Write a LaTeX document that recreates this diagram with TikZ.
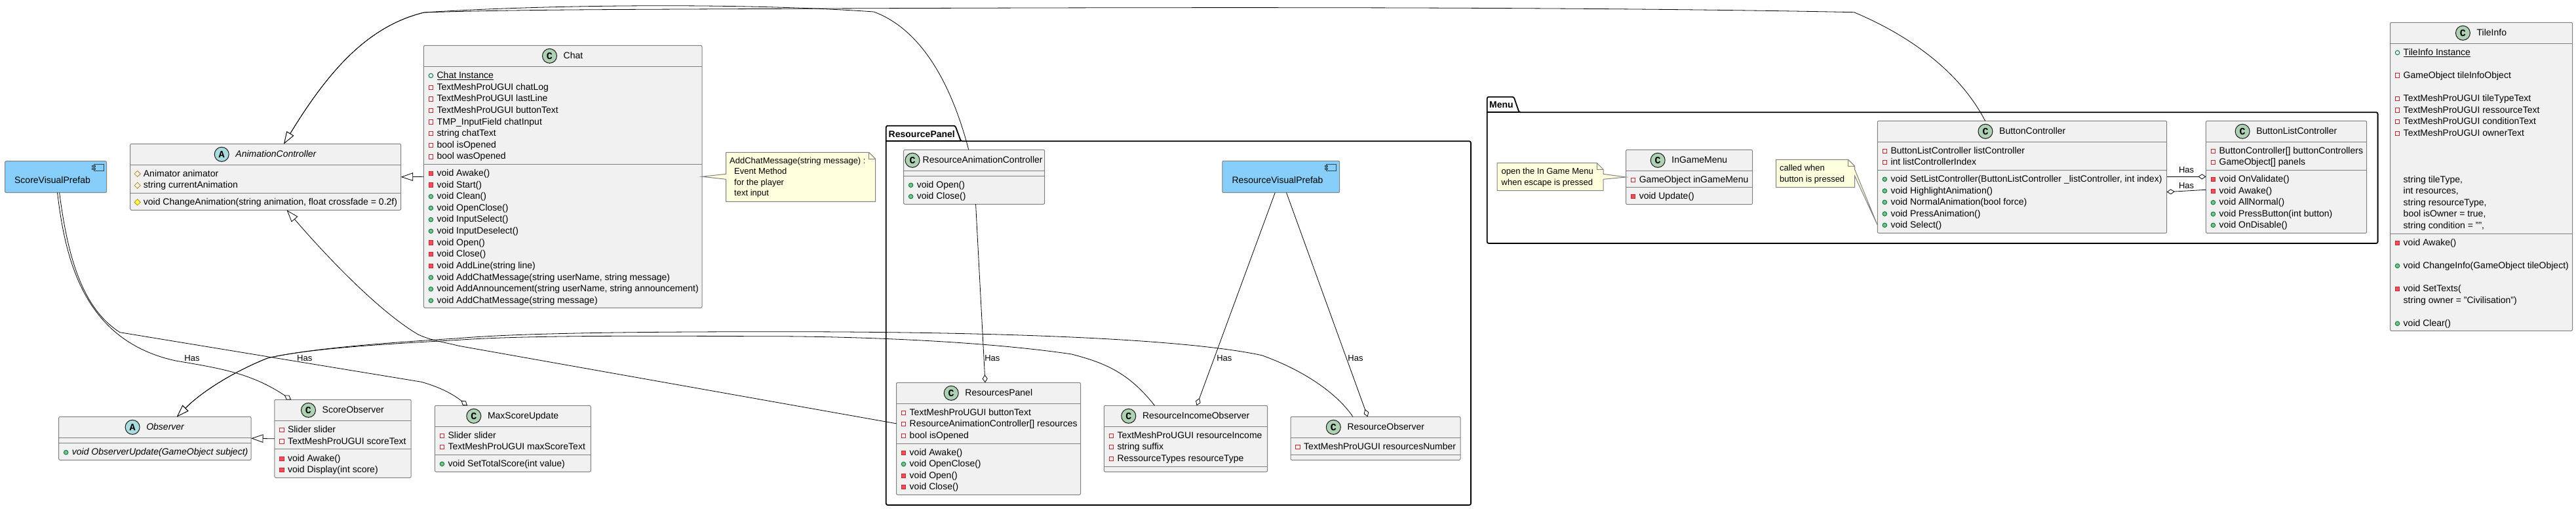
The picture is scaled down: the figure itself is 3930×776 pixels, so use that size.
\documentclass[tikz,border=0pt]{standalone}
\usepackage{fontspec}
\setmainfont{Liberation Sans}
\newfontfamily\iconfont{Liberation Mono}
\usetikzlibrary{positioning,fit,arrows.meta,shapes.geometric}

\newcommand{\rowfont}{\fontsize{14}{17}\selectfont}
\newcommand{\notefont}{\fontsize{13}{16.3}\selectfont}

\definecolor{classfill}{HTML}{F1F1F1}
\definecolor{classdraw}{HTML}{808080}
\definecolor{notefill}{HTML}{FEFFDD}
\definecolor{prefabfill}{HTML}{87CEFA}
\definecolor{iconcfill}{HTML}{ADD1B2}
\definecolor{iconafill}{HTML}{A9DCDF}
\definecolor{privdraw}{HTML}{C82930}
\definecolor{privfill}{HTML}{F24D5C}
\definecolor{pubdraw}{HTML}{038048}
\definecolor{pubfill}{HTML}{84BE84}
\definecolor{protdraw}{HTML}{B38D22}
\definecolor{protfill}{HTML}{FFFF44}

\tikzset{
    classbox/.style={draw=classdraw, fill=classfill, line width=1pt, rounded corners=2pt, inner sep=0pt, outer sep=0pt},
    classline/.style={draw=classdraw, line width=1pt},
    prefab/.style={draw=classdraw, fill=prefabfill, line width=1pt, rounded corners=2pt, inner sep=0pt, outer sep=0pt},
    prefabicon/.style={draw=black!65!prefabfill, line width=0.8pt},
    noteline/.style={draw=classdraw, fill=notefill, line width=1pt},
    pkgline/.style={draw=black, line width=1.8pt, rounded corners=2.5pt},
    rowtext/.style={anchor=west, inner sep=0pt, font=\rowfont, text height=11pt, text depth=3pt},
    classtitle/.style={inner sep=0pt, font=\rowfont, text height=11pt, text depth=3pt},
    notetext/.style={anchor=west, inner sep=0pt, font=\notefont, align=left},
    haslabel/.style={inner sep=0pt, font=\notefont},
    iconC/.style={circle, draw=black!90, fill=iconcfill, line width=1pt, minimum size=22pt, inner sep=0pt, font=\iconfont\bfseries\fontsize{15}{15}\selectfont},
    iconA/.style={iconC, fill=iconafill},
    icprivf/.style={rectangle, draw=privdraw, fill=classfill, line width=1pt, minimum size=6.5pt, inner sep=0pt},
    icprivm/.style={icprivf, fill=privfill},
    icpubf/.style={circle, draw=pubdraw, fill=classfill, line width=1pt, minimum size=6.5pt, inner sep=0pt},
    icpubm/.style={icpubf, fill=pubfill},
    icprotf/.style={diamond, draw=protdraw, fill=classfill, line width=0.8pt, minimum size=9.5pt, inner sep=0pt},
    icprotm/.style={icprotf, fill=protfill},
    icnone/.style={inner sep=0pt},
    inherit/.style={draw=black, line width=0.8pt, -{Triangle[fill=white, length=18.5pt, width=12.5pt]}},
    hasline/.style={draw=black, line width=0.8pt, -{Diamond[fill=white, length=12pt, width=8pt]}}
}

% box with header, separator, round icon and title: [gap]{name}{left}{top}{right}{bottom}{sep}{letter}{title}
\newcommand{\umlclass}[9][9.5]{
    \node[classbox, fit={(#3,#4) (#5,#6)}] (#2) {};
    \draw[classline] (#3,{#4+32}) -- (#5,{#4+32});
    \draw[classline] (#3,#7) -- (#5,#7);
    \node[classtitle] (#2-title) at ({(#3+#5)/2+(22+#1)/2},{#4+16}) {#9};
    \node[icon#8, left=#1pt of #2-title] (#2-icon) {#8};
}
% rows of a class: y/icon style/text
\newcommand{\classrows}[2]{
    \foreach \ry/\rk/\rt [count=\ri] in {#2} {
        \node[\rk] (#1-i\ri) at ([xshift=11pt]#1.west |- 0,\ry) {};
        \node[rowtext] (#1-r\ri) at ([xshift=20pt]#1.west |- 0,\ry) {\rt};
    }
}

\begin{document}
\begin{tikzpicture}[x=1pt, y=-1pt]
        \useasboundingbox (0,0) rectangle (3930,776);

        % Packages
        \draw[pkgline] (1351.8,215.3) -- (1351.8,191.7) -- (1457.3,191.7) -- (1466,215.3) -- (2244,215.3) -- (2244,770) -- (1351.8,770) -- cycle;
        \draw[pkgline] (1351.8,215.3) -- (1466,215.3);
        \node[inner sep=0pt, anchor=west, font=\rowfont\bfseries] (resPanelPkg) at (1355.5,204) {ResourcePanel};

        \draw[pkgline] (2268.7,171.3) -- (2268.7,147.7) -- (2309.5,147.7) -- (2317.6,171.3) -- (3627.6,171.3) -- (3627.6,371) -- (2268.7,371) -- cycle;
        \draw[pkgline] (2268.7,171.3) -- (2317.6,171.3);
        \node[inner sep=0pt, anchor=west, font=\rowfont\bfseries] (menuPkg) at (2272,160) {Menu};

        % Classes on the left
        \umlclass{animCtrl}{198.7}{219.3}{611.6}{320.3}{294.3}{A}{\itshape AnimationController}
        \classrows{animCtrl}{265/icprotf/{Animator animator}, 282.7/icprotf/{string currentAnimation},
            308.3/icprotm/{void ChangeAnimation(string animation, float crossfade = 0.2f)}}

        \umlclass{chat}{646.4}{69.3}{1071}{469.3}{250.3}{C}{Chat}
        \classrows{chat}{115.3/icpubf/{\underline{Chat Instance}}, 133.3/icprivf/{TextMeshProUGUI chatLog},
            150.9/icprivf/{TextMeshProUGUI lastLine}, 168.5/icprivf/{TextMeshProUGUI buttonText},
            186.1/icprivf/{TMP\_InputField chatInput}, 203.7/icprivf/{string chatText},
            221.3/icprivf/{bool isOpened}, 238.9/icprivf/{bool wasOpened},
            264.3/icprivm/{void Awake()}, 282/icprivm/{void Start()}, 299.6/icpubm/{void Clean()},
            317.2/icpubm/{void OpenClose()}, 334.8/icpubm/{void InputSelect()}, 352.4/icpubm/{void InputDeselect()},
            370/icprivm/{void Open()}, 387.6/icprivm/{void Close()}, 405.4/icprivm/{void AddLine(string line)},
            423/icpubm/{void AddChatMessage(string userName, string message)},
            440.7/icpubm/{void AddAnnouncement(string userName, string announcement)},
            458.3/icpubm/{void AddChatMessage(string message)}}

        \umlclass{observer}{89.7}{635.3}{383}{701.3}{675.3}{A}{\itshape Observer}
        \classrows{observer}{689.7/icpubm/{\itshape void ObserverUpdate(GameObject subject)}}

        \umlclass{scoreObserver}{418.8}{609.3}{627.2}{728.3}{684.3}{C}{ScoreObserver}
        \classrows{scoreObserver}{655.3/icprivf/{Slider slider}, 673/icprivf/{TextMeshProUGUI scoreText},
            699.3/icprivm/{void Awake()}, 716.3/icprivm/{void Display(int score)}}

        \umlclass{maxScore}{663.4}{618.3}{901.3}{719.3}{693.3}{C}{MaxScoreUpdate}
        \classrows{maxScore}{664.3/icprivf/{Slider slider}, 681.7/icprivf/{TextMeshProUGUI maxScoreText},
            707.3/icpubm/{void SetTotalScore(int value)}}

        % ResourcePanel
        \umlclass[4]{resAnim}{1378.6}{228.3}{1593.7}{311.3}{268.3}{C}{ResourceAnimationController}
        \classrows{resAnim}{282.3/icpubm/{void Open()}, 299.6/icpubm/{void Close()}}

        \umlclass{resPanel}{1367.5}{583.3}{1648.5}{754.3}{676.7}{C}{ResourcesPanel}
        \classrows{resPanel}{629.3/icprivf/{TextMeshProUGUI buttonText}, 646.6/icprivf/{ResourceAnimationController[] resources},
            664.3/icprivf/{bool isOpened}, 690.3/icprivm/{void Awake()}, 707.6/icpubm/{void OpenClose()},
            725.3/icprivm/{void Open()}, 742.3/icprivm/{void Close()}}

        \umlclass{resIncome}{1684.3}{618.3}{1933.6}{719.3}{711.3}{C}{ResourceIncomeObserver}
        \classrows{resIncome}{664.3/icprivf/{TextMeshProUGUI resourceIncome}, 681.7/icprivf/{string suffix},
            699.3/icprivf/{RessourceTypes resourceType}}

        \umlclass{resObserver}{1969}{635.3}{2228}{701.3}{693.3}{C}{ResourceObserver}
        \classrows{resObserver}{681.7/icprivf/{TextMeshProUGUI resourcesNumber}}

        % Menu
        \umlclass{inGameMenu}{2480.6}{228.3}{2673.5}{311.7}{285.7}{C}{InGameMenu}
        \classrows{inGameMenu}{274.3/icprivf/{GameObject inGameMenu}, 299.7/icprivm/{void Update()}}

        \umlclass{buttonCtrl}{2864.3}{184.3}{3305.7}{355.3}{259.3}{C}{ButtonController}
        \classrows{buttonCtrl}{230.3/icprivf/{ButtonListController listController}, 247.3/icprivf/{int listControllerIndex},
            273.3/icpubm/{void SetListController(ButtonListController \_listController, int index)},
            291/icpubm/{void HighlightAnimation()}, 308.3/icpubm/{void NormalAnimation(bool force)},
            326/icpubm/{void PressAnimation()}, 343.3/icpubm/{void Select()}}

        \umlclass{buttonList}{3365.4}{184.3}{3610.7}{355.3}{259.3}{C}{ButtonListController}
        \classrows{buttonList}{230.3/icprivf/{ButtonController[] buttonControllers}, 247.3/icprivf/{GameObject[] panels},
            273.3/icprivm/{void OnValidate()}, 291.3/icprivm/{void Awake()}, 308.7/icpubm/{void AllNormal()},
            326.3/icpubm/{void PressButton(int button)}, 343.3/icpubm/{void OnDisable()}}

        % TileInfo
        \umlclass{tileInfo}{3646.5}{34.3}{3924.6}{504.3}{356.3}{C}{TileInfo}
        \classrows{tileInfo}{80.3/icpubf/{\underline{TileInfo Instance}}, 115/icprivf/{GameObject tileInfoObject},
            150.3/icprivf/{TextMeshProUGUI tileTypeText}, 168/icprivf/{TextMeshProUGUI ressourceText},
            185.5/icprivf/{TextMeshProUGUI conditionText}, 203.3/icprivf/{TextMeshProUGUI ownerText},
            274.3/icnone/{string tileType,}, 291.7/icnone/{int resources,}, 309.5/icnone/{string resourceType,},
            326.5/icnone/{bool isOwner = true,}, 344.3/icnone/{string condition = "",},
            370.3/icprivm/{void Awake()}, 405.3/icpubm/{void ChangeInfo(GameObject tileObject)},
            440.3/icprivm/{void SetTexts(}, 458.3/icnone/{string owner = "Civilisation")}, 493.3/icpubm/{void Clear()}}

        % Prefabs
        \node[prefab, fit={(7.6,245.7) (162.5,293.7)}] (scoreVisual) {};
        \node[classtitle] (scoreVisualText) at (80,275.3) {ScoreVisualPrefab};
        \draw[prefabicon] (143,250) rectangle (158,260.7);
        \draw[prefabicon] (140.6,252.5) rectangle (145,254.5);
        \draw[prefabicon] (140.6,256.3) rectangle (145,258.3);

        \node[prefab, fit={(1864.8,245.3) (2043.7,293.7)}] (resVisual) {};
        \node[classtitle] (resVisualText) at (1949,275.3) {ResourceVisualPrefab};
        \draw[prefabicon] (2023.4,250) rectangle (2038.4,260.7);
        \draw[prefabicon] (2021,252.5) rectangle (2025.4,254.5);
        \draw[prefabicon] (2021,256.3) rectangle (2025.4,258.3);

        % Notes
        \draw[noteline] (1107.6,232.3) -- (1325.7,232.3) -- (1335.7,242.3) -- (1335.7,307.3) -- (1107.6,307.3) -- (1107.6,273.3) -- (chat.east) -- (1107.6,265.3) -- cycle;
        \draw[noteline, fill=none] (1325.7,232.3) |- (1335.7,242.3);
        \node[notetext] (chatNote) at (1113,270.5) {AddChatMessage(string message) :\\\hspace*{7pt}Event Method\\\hspace*{7pt}for the player\\\hspace*{7pt}text input};

        \draw[noteline] (2284,248.3) -- (2436,248.3) -- (2446,258.3) -- (2446,265.3) -- (inGameMenu.west) -- (2446,273.3) -- (2446,290.7) -- (2284,290.7) -- cycle;
        \draw[noteline, fill=none] (2436,248.3) |- (2446,258.3);
        \node[notetext] (menuNote) at (2290.5,270.5) {open the In Game Menu\\when escape is pressed};

        \draw[noteline] (2709.7,243.3) -- (2819.6,243.3) -- (2829.6,253.3) -- (2829.6,258.3) -- ([yshift=-73.5pt]buttonCtrl.west) -- (2829.6,268.3) -- (2829.6,285.7) -- (2709.7,285.7) -- cycle;
        \draw[noteline, fill=none] (2819.6,243.3) |- (2829.6,253.3);
        \node[notetext] (buttonNote) at (2715,265.5) {called when\\button is pressed};

        % Generalisations
        \draw[inherit] (chat.west) -- (animCtrl.east);
        \draw[inherit] (scoreObserver.west) -- (observer.east);

        \draw[inherit] ([xshift=-8.4pt]resAnim.north) .. controls (1460,160) and (1420,50) .. (1333,18)
            .. controls (1150,5) and (850,6) .. (647,19)
            .. controls (560,40) and (500,110) .. ([xshift=28pt]animCtrl.north);
        \draw[inherit] ([xshift=-56.4pt]buttonCtrl.north) .. controls (2990,110) and (2915,55) .. (2828.6,18.7)
            .. controls (2400,10) and (1800,11) .. (1258,13)
            .. controls (1000,14.5) and (800,14) .. (647,19)
            .. controls (560,40) and (500,110) .. ([xshift=28pt]animCtrl.north);
        \draw[inherit] ([yshift=23pt]resPanel.west) -- (700,527.3)
            .. controls (680,522) and (660,520) .. (638,510)
            .. controls (570,470) and (480,370) .. ([xshift=32.4pt]animCtrl.south);

        \draw[inherit] ([xshift=-34.5pt]resObserver.north) .. controls (2040,600) and (1990,565) .. (1925,541.7)
            .. controls (1800,515) and (1500,505) .. (1146,505.7)
            .. controls (1000,506) and (800,507) .. (700,515.7)
            .. controls (600,522) and (480,530) .. (409,545.7)
            .. controls (360,565) and (310,595) .. ([xshift=33.6pt]observer.north);
        \draw[inherit] ([xshift=-47.5pt]resIncome.north) .. controls (1720,565) and (1680,552) .. (1635,540)
            .. controls (1500,520) and (1300,512) .. (1146,512.7)
            .. controls (1000,512) and (800,511) .. (700,518.3)
            .. controls (600,524) and (480,530) .. (409,545.7)
            .. controls (360,565) and (310,595) .. ([xshift=33.6pt]observer.north);

        % Aggregations
        \draw[hasline] ([xshift=2.4pt]resAnim.south) -- ([xshift=-5pt]resPanel.north);
        \draw[hasline] ([xshift=-9pt]resVisual.south) -- ([xshift=16.8pt]resIncome.north);
        \draw[hasline] ([xshift=8.3pt]resVisual.south) -- ([xshift=-12pt]resObserver.north);

        \draw[hasline] ([xshift=2.5pt]scoreVisual.south) .. controls (100,400) and (130,520) .. (268,550)
            .. controls (340,562) and (385,570) .. ([xshift=-79pt]scoreObserver.north);
        \draw[hasline] ([xshift=5.6pt]scoreVisual.south) .. controls (103,390) and (125,470) .. (183,506.7)
            -- (643,582.3)
            .. controls (670,590) and (690,600) .. ([xshift=-69.4pt]maxScore.north);

        \draw[hasline] ([yshift=0.5pt]buttonCtrl.east) -- ([yshift=0.5pt]buttonList.west);
        \draw[hasline] ([yshift=-19.5pt]buttonList.west) -- ([yshift=-22.9pt]buttonCtrl.east);

        % Labels
        \node[haslabel] (hasScore) at (293,545.7) {Has};
        \node[haslabel] (hasMaxScore) at (464.7,545.7) {Has};
        \node[haslabel] (hasResPanel) at (1513.8,545.7) {Has};
        \node[haslabel] (hasResIncome) at (1867.8,545.7) {Has};
        \node[haslabel] (hasResObserver) at (2068,545.7) {Has};
        \node[haslabel] (hasButtonList) at (3335.6,258.7) {Has};
        \node[haslabel] (hasButtonCtrl) at (3335.6,282.7) {Has};
\end{tikzpicture}
\end{document}
